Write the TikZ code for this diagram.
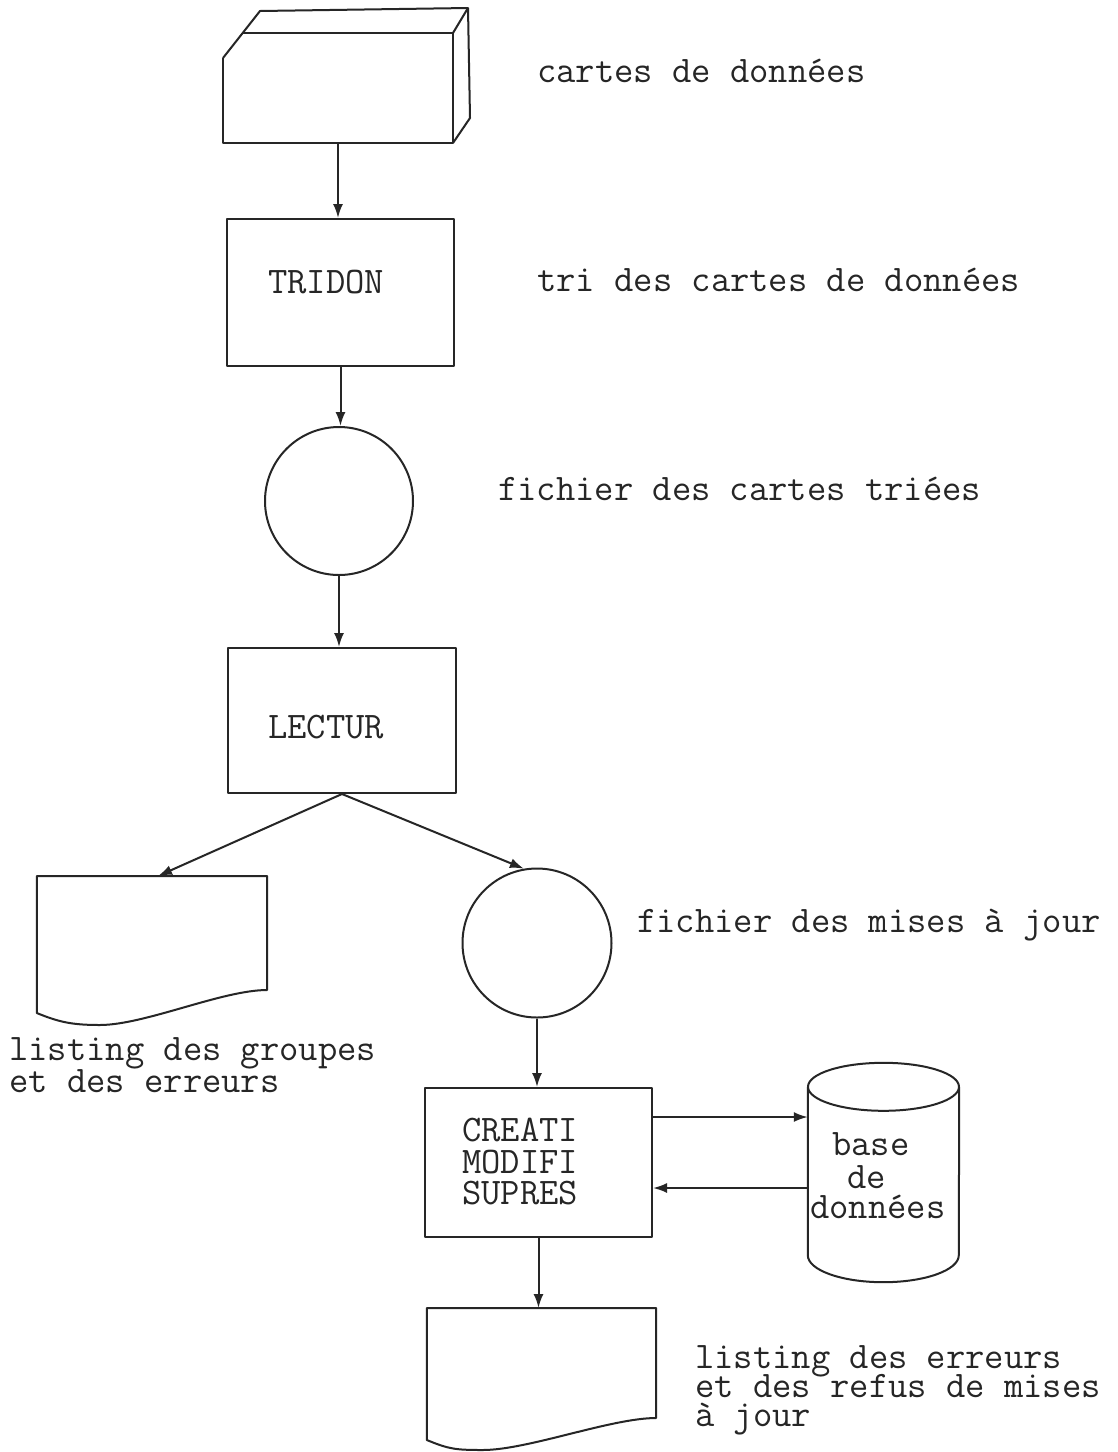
\documentclass[tikz,border=0pt]{standalone}
\usetikzlibrary{arrows.meta,calc}
\tikzset{
  shp/.style={draw=black!85, line width=2pt, line join=round},
  arr/.style={draw=black!85, line width=2pt, -{Latex[length=14pt,width=10pt]}},
  boxn/.style={shp, rectangle, inner sep=0pt},
  circn/.style={shp, circle, inner sep=0pt},
  ghost/.style={draw=none, rectangle, inner sep=0pt},
  txt/.style={font=\ttfamily\fontsize{37.5pt}{31pt}\selectfont, inner sep=0pt, text=black!85},
  lbl/.style={txt, anchor=base west, text height=19pt, text depth=4pt}
}
\newcommand\docshape[5]{%
  \draw[shp] (#1.north west) -- (#1.north east) -- ($(#1.north east)+(0,#2)$)
    .. controls +(-45,0) and +(45,0) .. ($(#1.north west)+(#4,#5)$)
    .. controls +(-28,0) and +(22,9) .. ($(#1.north west)+(0,#3)$) -- cycle;}
\begin{document}
\begin{tikzpicture}[x=1pt,y=-1pt]
\fill[white] (0,0) rectangle (1118,1452);
\useasboundingbox (0,0) rectangle (1118,1452);

% punched cards
\node[ghost, minimum width=230pt, minimum height=110pt] (card) at (338,88) {};
\draw[shp] (223,58) -- (223,143) -- (453,143) -- (453,33) -- (243,33);
\draw[shp] (223,58) -- (260,11) -- (468,8) -- (470,118) -- (453,143);
\draw[shp] (453,33) -- (468,8);

% TRIDON
\node[boxn, minimum width=227pt, minimum height=147pt] (tridon) at (340.5,292.5) {};
\node[txt] (tridonT) at (326,282) {TRIDON};

% file 1
\node[circn, minimum size=148pt] (c1) at (339,501) {};

% LECTUR
\node[boxn, minimum width=228pt, minimum height=145pt] (lectur) at (342,720.5) {};
\node[txt] (lecturT) at (326,727) {LECTUR};

% listing 1
\node[ghost, anchor=north, minimum width=230pt, minimum height=149pt] (lst1) at (152,876) {};
\docshape{lst1}{114}{137}{63}{149}

% file 2
\node[circn, minimum size=149pt] (c2) at (537,943) {};

% CREATI box
\node[boxn, minimum width=227pt, minimum height=149pt] (creati) at (538.5,1162.5) {};
\node[txt] (cr1) at (520,1130) {CREATI};
\node[txt] (cr2) at (520,1162) {MODIFI};
\node[txt] (cr3) at (520,1193) {SUPRES};

% data base cylinder
\node[ghost, minimum width=151pt, minimum height=168pt] (db) at (883.5,1171) {};
\draw[shp] (db.north west) -- (db.south west)
  arc[start angle=180, end angle=360, x radius=75.5pt, y radius=27pt] -- (db.north east);
\draw[shp] (db.north) ellipse[x radius=75.5pt, y radius=24pt];
\node[lbl] (db1) at (832,1155) {base};
\node[lbl] (db2) at (847,1188) {de};
\node[lbl] (db3) at (810,1218) {données};

% listing 2
\node[ghost, anchor=north, minimum width=229pt, minimum height=142pt] (lst2) at (541.5,1308) {};
\docshape{lst2}{110}{132}{56}{142}

% connectors
\draw[arr] (card.south) -- (card.south |- tridon.north);
\draw[arr] (tridon.south) -- (tridon.south |- c1.north);
\draw[arr] (c1.south) -- (c1.south |- lectur.north);
\draw[arr] (lectur.south) -- ([xshift=6pt]lst1.north);
\draw[arr] (lectur.south) -- (c2.100);
\draw[arr] (c2.south) -- (c2.south |- creati.north);
\coordinate (a1) at ([yshift=45.5pt]creati.east);
\coordinate (a2) at ([yshift=-25.5pt]creati.east);
\draw[arr] (a1) -- (a1 -| db.west);
\draw[arr] (a2 -| db.west) -- (a2);
\draw[arr] (creati.south) -- (creati.south |- lst2.north);

% labels
\node[lbl] (t1) at (537,82) {cartes de données};
\node[lbl] (t2) at (537,291) {tri des cartes de données};
\node[lbl] (t3) at (498,500) {fichier des cartes triées};
\node[lbl] (t4) at (637,932) {fichier des mises à jour};
\node[lbl] (t5a) at (9,1060) {listing des groupes};
\node[lbl] (t5b) at (9,1092) {et des erreurs};
\node[lbl] (t6a) at (695,1368) {listing des erreurs};
\node[lbl] (t6b) at (695,1397) {et des refus de mises};
\node[lbl] (t6c) at (695,1426) {à jour};
\end{tikzpicture}
\end{document}
